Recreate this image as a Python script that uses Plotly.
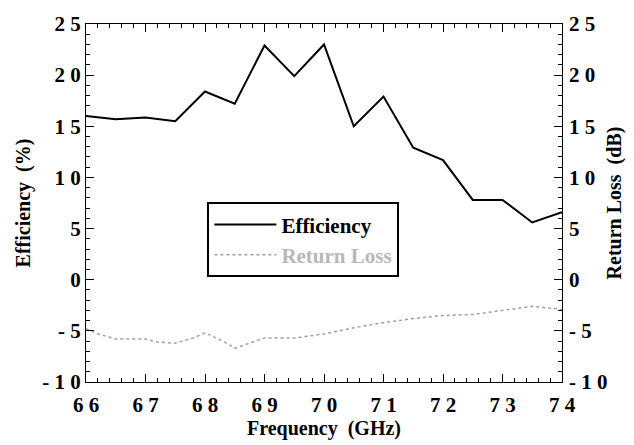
import plotly.graph_objects as go

freq_eff = [66, 66.5, 67, 67.5, 68, 68.5, 69, 69.5, 70, 70.5, 71, 71.5, 72, 72.5, 73, 73.5, 74]
efficiency = [16.0, 15.7, 15.85, 15.5, 18.4, 17.2, 22.9, 19.9, 23.0, 15.0, 17.9, 12.9, 11.7, 7.8, 7.8, 5.6, 6.6]

freq_rl = [66, 66.2, 66.5, 67, 67.2, 67.5, 67.8, 68, 68.3, 68.5, 68.7, 69, 69.5, 70, 70.5, 71, 71.5, 72, 72.5, 73, 73.5, 74]
return_loss = [-4.8, -5.3, -5.8, -5.8, -6.1, -6.2, -5.7, -5.2, -6.0, -6.7, -6.3, -5.7, -5.7, -5.3, -4.7, -4.2, -3.8, -3.5, -3.4, -3.0, -2.6, -2.9]

x_tickvals = [66, 67, 68, 69, 70, 71, 72, 73, 74]
x_ticktext = ["6 6", "6 7", "6 8", "6 9", "7 0", "7 1", "7 2", "7 3", "7 4"]
y_tickvals = [-10, -5, 0, 5, 10, 15, 20, 25]
y_ticktext = ["- 1 0", "- 5", "0", "5", "1 0", "1 5", "2 0", "2 5"]

FONT = "Liberation Serif"

fig = go.Figure()
fig.add_trace(go.Scatter(x=freq_eff, y=efficiency, mode="lines", name="Efficiency",
                         line=dict(color="black", width=2)))
fig.add_trace(go.Scatter(x=freq_rl, y=return_loss, mode="lines",
                         name="<span style='color:#b8b8b8'>Return Loss</span>",
                         line=dict(color="#a0a0a0", width=1.5, dash="dot"), yaxis="y2"))

tickfont = dict(family=FONT, size=21, color="black", weight="bold")
titlefont = dict(family=FONT, size=20, color="black", weight="bold")

fig.update_layout(
    width=634, height=445,
    margin=dict(l=86, r=70, t=21, b=63),
    plot_bgcolor="white", paper_bgcolor="white",
    showlegend=True,
    legend=dict(x=0.255, y=0.502, xanchor="left", yanchor="top",
                bgcolor="white", bordercolor="black", borderwidth=2,
                font=dict(family=FONT, size=21, color="black", weight="bold"),
                itemwidth=62, tracegroupgap=0),
    xaxis=dict(range=[66, 74], tickvals=x_tickvals, ticktext=x_ticktext,
               ticks="inside", ticklen=8, tickwidth=1, tickcolor="black",
               minor=dict(dtick=0.2, ticks="inside", ticklen=4, tickcolor="black"),
               showline=True, linecolor="black", linewidth=1, mirror="ticks",
               showgrid=False, zeroline=False, tickfont=tickfont, ticklabelstandoff=4,
               title=dict(text="Frequency  (GHz)", font=titlefont, standoff=0)),
    yaxis=dict(range=[-10, 25], tickvals=y_tickvals, ticktext=y_ticktext,
               ticks="inside", ticklen=8, tickwidth=1, tickcolor="black",
               minor=dict(dtick=1, ticks="inside", ticklen=4, tickcolor="black"),
               showline=True, linecolor="black", linewidth=1, mirror=True,
               showgrid=False, zeroline=False, tickfont=tickfont,
               title=dict(text="Efficiency  (%)", font=titlefont, standoff=6)),
    yaxis2=dict(range=[-10, 25], tickvals=y_tickvals, ticktext=y_ticktext,
                overlaying="y", side="right",
                ticks="inside", ticklen=8, tickwidth=1, tickcolor="black",
                minor=dict(dtick=1, ticks="inside", ticklen=4, tickcolor="black"),
                showline=False, showgrid=False, zeroline=False, tickfont=tickfont,
                ticklabelstandoff=6,
                title=dict(text="Return Loss  (dB)", font=titlefont, standoff=0)),
)

fig.write_html("out.html")
